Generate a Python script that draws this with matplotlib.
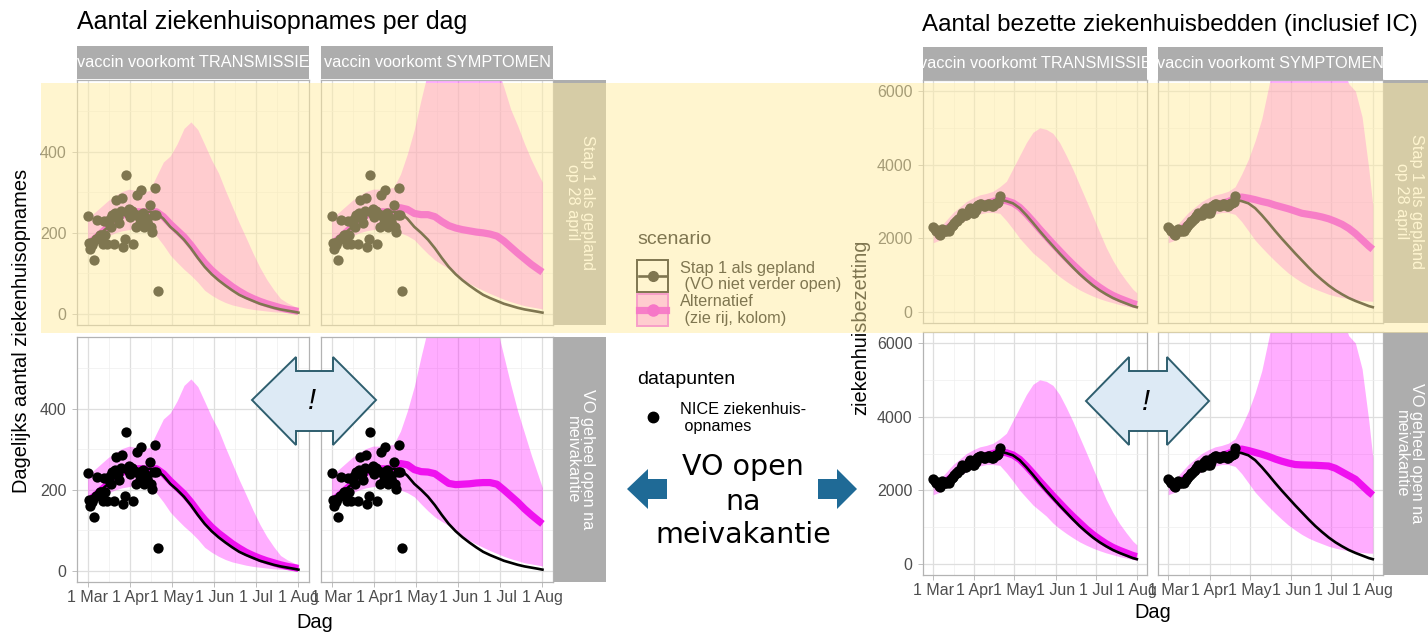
import numpy as np
import matplotlib
matplotlib.use('Agg')
import matplotlib.pyplot as plt
from matplotlib.patches import Rectangle, Polygon

plt.rcParams['font.family'] = ['Liberation Sans', 'DejaVu Sans']

# ---------------- data ----------------
MONTH_DAYS = [0, 31, 61, 92, 122, 153]
MONTH_LABELS = ['1 Mar', '1 Apr', '1 May', '1 Jun', '1 Jul', '1 Aug']
MINOR_X = [15.5, 46, 76.5, 107, 137.5]
DAYS = [0, 5, 10, 15, 20, 25, 30, 35, 40, 45, 50, 55, 60, 65, 70, 75, 80, 85, 90,
        95, 100, 105, 110, 115, 120, 125, 130, 135, 140, 145, 150, 153]

# daily admissions (NICE) from 1 March
ADM = [241, 174, 161, 170, 178, 133, 185, 233, 190, 195, 194, 172, 230, 194, 172, 228,
       235, 215, 245, 172, 250, 281, 238, 225, 255, 285, 165, 186, 342, 248, 260, 240,
       255, 172, 246, 215, 293, 240, 225, 305, 250, 215, 238, 230, 220, 268, 215, 203,
       245, 311, 245, 56]
# occupied beds from 1 March
BED = [2298, 2250, 2200, 2190, 2120, 2098, 2180, 2250, 2220, 2207, 2190, 2230, 2207,
       2280, 2330, 2370, 2420, 2461, 2480, 2520, 2551, 2600, 2687, 2650, 2624, 2624,
       2700, 2777, 2820, 2750, 2700, 2687, 2780, 2868, 2900, 2931, 2931, 2900, 2880,
       2868, 2900, 2931, 2931, 2900, 2868, 2868, 2930, 2958, 2950, 3000, 3140]

# --- admissions model ---
L_BLACK = [172, 185, 200, 215, 232, 243, 250, 252, 252, 252, 250, 235, 215, 200, 183, 162,
           138, 116, 98, 83, 70, 58, 47, 39, 32, 25, 20, 15, 11, 8, 5, 3]
L_ALT_T = [172, 185, 200, 215, 232, 243, 250, 252, 252, 252, 252, 240, 222, 206, 190, 170,
           147, 126, 108, 93, 80, 67, 56, 46, 38, 31, 25, 20, 15, 11, 8, 6]
L_UP_T = [235, 250, 265, 280, 292, 302, 308, 305, 300, 305, 340, 375, 390, 420, 458, 474,
          455, 418, 380, 348, 305, 265, 225, 188, 150, 115, 85, 60, 38, 27, 19, 15]
L_LO_T = [153, 168, 183, 192, 200, 205, 208, 210, 210, 205, 192, 170, 145, 127, 110, 95,
          78, 58, 46, 36, 28, 22, 18, 14, 11, 9, 7, 5, 4, 3, 2, 2]
L_UP_S_TOP = [235, 250, 265, 280, 292, 302, 308, 308, 310, 312, 345, 395, 455, 530, 600, 680,
              750, 800, 820, 820, 800, 765, 720, 665, 610, 560, 505, 465, 420, 380, 345, 325]
L_UP_S_BOT = [235, 250, 265, 280, 292, 302, 308, 308, 310, 312, 345, 395, 455, 530, 600, 680,
              750, 800, 820, 820, 800, 765, 720, 665, 600, 530, 460, 395, 340, 285, 235, 205]
L_LO_S = [153, 168, 183, 192, 200, 205, 208, 210, 210, 208, 200, 193, 183, 165, 148, 133,
          122, 112, 98, 85, 75, 66, 58, 50, 43, 36, 30, 25, 20, 17, 14, 12]
L_ALT_S_TOP = [172, 185, 200, 215, 232, 243, 250, 252, 252, 254, 262, 258, 248, 245, 245, 240,
               228, 218, 212, 208, 205, 202, 200, 197, 192, 180, 165, 150, 136, 122, 110, 103]
L_ALT_S_BOT = [172, 185, 200, 215, 232, 243, 250, 252, 252, 255, 265, 262, 250, 245, 244, 240,
               228, 216, 213, 214, 215, 217, 218, 218, 214, 200, 185, 170, 153, 138, 124, 116]

# --- beds model ---
R_BLACK = [2200, 2180, 2250, 2400, 2550, 2700, 2800, 2900, 2950, 3000, 3050, 3010, 2950,
           2820, 2630, 2420, 2200, 1990, 1790, 1590, 1400, 1210, 1030, 870, 720, 590, 480,
           380, 300, 230, 160, 130]
R_ALT_T = [2200, 2180, 2250, 2400, 2550, 2700, 2800, 2900, 2950, 3000, 3050, 3020, 2960,
           2840, 2660, 2460, 2250, 2050, 1850, 1660, 1470, 1290, 1120, 950, 800, 670, 550,
           450, 370, 300, 230, 200]
R_UP_T = [2150, 2300, 2500, 2700, 2850, 3000, 3100, 3180, 3220, 3280, 3400, 3550, 3900,
          4250, 4600, 4880, 5000, 4960, 4850, 4600, 4250, 3870, 3450, 3030, 2600, 2170,
          1750, 1400, 1100, 850, 620, 520]
R_LO_T = [1880, 1950, 2080, 2250, 2400, 2500, 2600, 2660, 2700, 2700, 2680, 2480, 2250,
          2000, 1800, 1600, 1450, 1300, 1110, 960, 830, 710, 600, 510, 430, 360, 300, 250,
          200, 160, 120, 100]
R_UP_S = [2150, 2300, 2500, 2700, 2850, 3000, 3100, 3180, 3220, 3280, 3400, 3750, 4150,
          4650, 5250, 6100, 7000, 7700, 8200, 8600, 8800, 8800, 8700, 8400, 8000, 7400,
          6700, 6200, 6000, 5300, 3900, 2900]
R_LO_S = [1880, 1950, 2080, 2250, 2400, 2500, 2600, 2660, 2700, 2700, 2650, 2450, 2200,
          1950, 1750, 1560, 1380, 1210, 1050, 920, 800, 700, 620, 550, 480, 430, 390, 360,
          330, 310, 295, 290]
R_ALT_S_TOP = [2200, 2180, 2250, 2400, 2550, 2700, 2800, 2900, 2950, 3000, 3080, 3120, 3090,
               3050, 3000, 2960, 2900, 2850, 2800, 2740, 2680, 2650, 2620, 2580, 2530, 2460,
               2380, 2270, 2130, 1960, 1790, 1700]
R_ALT_S_BOT = [2200, 2180, 2250, 2400, 2550, 2700, 2800, 2900, 2950, 3000, 3080, 3120, 3080,
               3030, 2980, 2920, 2850, 2790, 2740, 2700, 2690, 2685, 2680, 2670, 2660, 2600,
               2500, 2400, 2300, 2130, 1960, 1870]

COL_STRIPS = ['vaccin voorkomt TRANSMISSIE', 'vaccin voorkomt SYMPTOMEN']
ROW_STRIPS = ['Stap 1 als gepland\nop 28 april', 'VO geheel open na\nmeivakantie']

# ---------------- styling ----------------
W, H = 1428, 633
MAG = '#EE00EE'
BAND = '#FF00FF'
STRIP = '#ADADAD'
fig = plt.figure(figsize=(W / 100, H / 100), dpi=100)


def rect(x0, y0, x1, y1):
    return [x0 / W, 1 - y1 / H, (x1 - x0) / W, (y1 - y0) / H]


def panel(r, ylim, yticks, yminor, show_y, show_x, lo, up, alt):
    ax = fig.add_axes(r)
    ax.set_xlim(-7.65, 160.65)
    ax.set_ylim(*ylim)
    ax.set_xticks(MONTH_DAYS)
    ax.set_xticks(MINOR_X, minor=True)
    ax.set_yticks(yticks)
    ax.set_yticks(yminor, minor=True)
    ax.grid(which='major', color='#DEDEDE', lw=0.9)
    ax.grid(which='minor', color='#EEEEEE', lw=0.5)
    ax.set_axisbelow(True)
    for s in ax.spines.values():
        s.set_color('#B3B3B3')
        s.set_linewidth(0.9)
    ax.tick_params(which='major', length=3.6, width=0.6, color='#B3B3B3',
                   labelsize=11.5, labelcolor='#4D4D4D')
    ax.tick_params(which='minor', length=0)
    ax.tick_params(axis='x', pad=2.5)
    ax.tick_params(axis='y', pad=4)
    if show_x:
        ax.set_xticklabels(MONTH_LABELS)
    else:
        ax.set_xticklabels([])
        ax.tick_params(axis='x', length=0)
    if show_y:
        ax.set_yticklabels([str(v) for v in yticks])
    else:
        ax.set_yticklabels([])
        ax.tick_params(axis='y', length=0)
    ax.fill_between(DAYS, lo, up, color=BAND, alpha=0.32, lw=0, zorder=2)
    ax.plot(DAYS, alt, color=MAG, lw=5.2, alpha=0.9, solid_capstyle='butt', zorder=3)
    return ax


def strip(r, text, rot=0):
    ax = fig.add_axes(r)
    ax.set_facecolor(STRIP)
    ax.set_xticks([])
    ax.set_yticks([])
    for s in ax.spines.values():
        s.set_visible(False)
    t = ax.text(0.5, 0.5, text, transform=ax.transAxes, ha='center', va='center',
                color='white', fontsize=11.7, rotation=rot, linespacing=0.95,
                multialignment='center')
    t.set_clip_path(ax.patch)
    return ax


# ---------- left chart: admissions ----------
LY = ((-27.5, 577.5), [0, 200, 400], [100, 300, 500])
lpan = [
    (rect(77, 80, 309, 325), True, False, L_LO_T, L_UP_T, L_ALT_T),
    (rect(321, 80, 553, 325), False, False, L_LO_S, L_UP_S_TOP, L_ALT_S_TOP),
    (rect(77, 337, 309, 582), True, True, L_LO_T, L_UP_T, L_ALT_T),
    (rect(321, 337, 553, 582), False, True, L_LO_S, L_UP_S_BOT, L_ALT_S_BOT),
]
for r, sy, sx, lo, up, alt in lpan:
    ax = panel(r, LY[0], LY[1], LY[2], sy, sx, lo, up, alt)
    ax.plot(DAYS, L_BLACK, color='black', lw=1.9, zorder=4)
    ax.scatter(np.arange(len(ADM)), ADM, s=55, color='black', lw=0, zorder=5)
strip(rect(77, 46, 309, 79), COL_STRIPS[0])
strip(rect(321, 46, 553, 79), COL_STRIPS[1])
strip(rect(554, 80, 606, 325), ROW_STRIPS[0], rot=270)
strip(rect(554, 337, 606, 582), ROW_STRIPS[1], rot=270)

# ---------- right chart: beds ----------
RY = ((-300, 6300), [0, 2000, 4000, 6000], [1000, 3000, 5000])
rpan = [
    (rect(923, 80, 1147, 323), True, False, R_LO_T, R_UP_T, R_ALT_T),
    (rect(1158, 80, 1383, 323), False, False, R_LO_S, R_UP_S, R_ALT_S_TOP),
    (rect(923, 332, 1147, 575), True, True, R_LO_T, R_UP_T, R_ALT_T),
    (rect(1158, 332, 1383, 575), False, True, R_LO_S, R_UP_S, R_ALT_S_BOT),
]
for r, sy, sx, lo, up, alt in rpan:
    ax = panel(r, RY[0], RY[1], RY[2], sy, sx, lo, up, alt)
    ax.plot(DAYS, R_BLACK, color='black', lw=1.9, zorder=4)
    ax.scatter(np.arange(len(BED)), BED, s=55, color='black', lw=0, zorder=5)
strip(rect(923, 47, 1147, 80), COL_STRIPS[0])
strip(rect(1158, 47, 1383, 80), COL_STRIPS[1])
strip(rect(1384, 80, 1434, 323), ROW_STRIPS[0], rot=270)
strip(rect(1384, 332, 1434, 575), ROW_STRIPS[1], rot=270)

# ---------- overlay (annotations, legend, yellow highlight) ----------
ov = fig.add_axes([0, 0, 1, 1], zorder=10)
ov.set_xlim(0, W)
ov.set_ylim(H, 0)
ov.axis('off')
ov.patch.set_alpha(0)

ov.text(77, 29.5, 'Aantal ziekenhuisopnames per dag', fontsize=18, va='baseline', ha='left')
ov.text(922, 31.5, 'Aantal bezette ziekenhuisbedden (inclusief IC)', fontsize=17.4,
        va='baseline', ha='left')
ov.text(22, 331, 'Dagelijks aantal ziekenhuisopnames', fontsize=14.4, rotation=90,
        ha='center', va='center')
ov.text(861, 327, 'ziekenhuisbezetting', fontsize=14.4, rotation=90, ha='center', va='center')
ov.text(315, 622, 'Dag', fontsize=14.4, ha='center', va='center')
ov.text(1153, 613, 'Dag', fontsize=14.4, ha='center', va='center')

# legend: scenario
ov.text(637, 240, 'scenario', fontsize=14, ha='left', va='center', zorder=2)
ov.add_patch(Rectangle((637, 260), 31, 32, fc='white', ec='black', lw=1.4, zorder=2))
ov.plot([639, 666], [276, 276], color='black', lw=1.9, zorder=3)
ov.plot([652.5], [276], 'o', color='black', ms=7, zorder=3)
ov.add_patch(Rectangle((637, 294), 31, 32, fc='#FFACFF', ec='#F050F0', lw=1.4, zorder=2))
ov.plot([639, 666], [310, 310], color=MAG, lw=5.2, alpha=0.9, zorder=3)
ov.plot([652.5], [310], 'o', color=MAG, ms=8, zorder=3)
for y, s in [(268, 'Stap 1 als gepland'), (285, ' (VO niet verder open)'),
             (302, 'Alternatief'), (318, ' (zie rij, kolom)')]:
    ov.text(680, y, s, fontsize=11.7, ha='left', va='center', zorder=2)

# legend: datapunten
ov.text(637, 380, 'datapunten', fontsize=14, ha='left', va='center', zorder=2)
ov.plot([653], [417], 'o', color='black', ms=7.5, zorder=3)
ov.text(680, 410, 'NICE ziekenhuis-', fontsize=11.7, ha='left', va='center', zorder=2)
ov.text(680, 427, ' opnames', fontsize=11.7, ha='left', va='center', zorder=2)

# central message
for y, s in [(467, 'VO open'), (502, 'na'), (535, 'meivakantie')]:
    ov.text(743, y, s, fontsize=20.5, family='DejaVu Sans', ha='center', va='center', zorder=6)
BLUE = '#1F6A96'
ov.add_patch(Polygon([(627, 489), (648, 469), (648, 479), (667, 479), (667, 499),
                      (648, 499), (648, 509)], closed=True, fc=BLUE, ec='none', zorder=6))
ov.add_patch(Polygon([(857, 489), (837, 469), (837, 479), (818, 479), (818, 499),
                      (837, 499), (837, 509)], closed=True, fc=BLUE, ec='none', zorder=6))

# double arrows with "!"
for (lx, hx1, hx2, rx, yc) in [(252, 296, 333, 376, 400), (1086, 1129, 1167, 1209, 401)]:
    pts = [(lx, yc), (hx1, 357), (hx1, 371), (hx2, 371), (hx2, 357), (rx, yc),
           (hx2, 445), (hx2, 431), (hx1, 431), (hx1, 445)]
    ov.add_patch(Polygon(pts, closed=True, fc='#DDEAF5', ec='#2E5E6E', lw=1.4, zorder=6))
    ov.text((lx + rx) / 2 - 2, yc + 1, '!', fontsize=21, style='italic', ha='center',
            va='center', zorder=7)

# yellow highlight over first row
ov.add_patch(Rectangle((41, 83), W - 41, 250, fc=(1.0, 0.925, 0.63), alpha=0.5,
                       ec='none', zorder=5))

fig.savefig('out.png', dpi=100)
